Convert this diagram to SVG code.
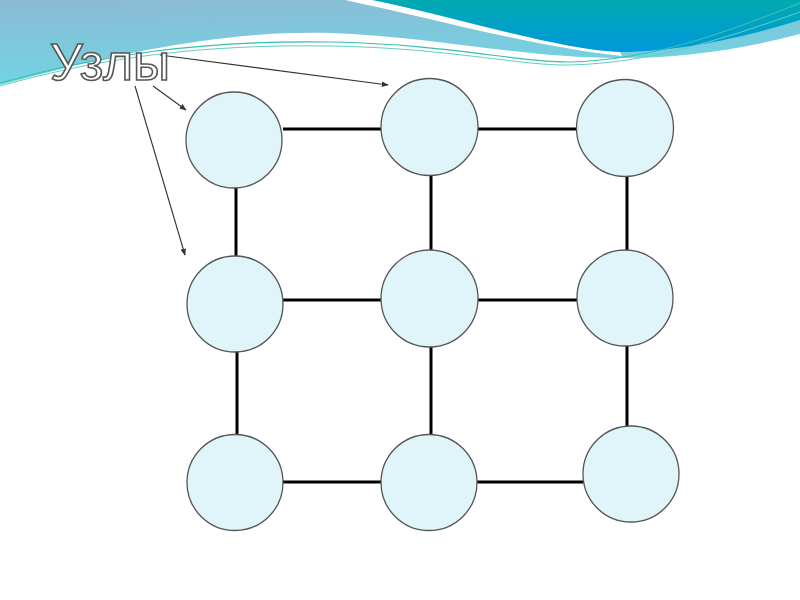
<svg xmlns="http://www.w3.org/2000/svg" width="800" height="600" viewBox="0 0 800 600">
<defs>
<linearGradient id="lb" x1="0" y1="0" x2="0.3" y2="1">
<stop offset="0" stop-color="#8cbad4"/>
<stop offset="1" stop-color="#6fd6e4"/>
</linearGradient>
<linearGradient id="bl" x1="0" y1="0" x2="0" y2="1">
<stop offset="0" stop-color="#00aab0"/>
<stop offset="1" stop-color="#0098dc"/>
</linearGradient>
<marker id="ah" viewBox="0 0 10 10" refX="9" refY="5" markerWidth="7" markerHeight="7" orient="auto" markerUnits="userSpaceOnUse">
<path d="M0,1 L10,5 L0,9 Z" fill="#333"/>
</marker>
<style>
.node{fill:#dff5f9;stroke:#555;stroke-width:1.3}
.edge{stroke:#000;stroke-width:3;fill:none}
.ptr{stroke:#333;stroke-width:1.1;fill:none;marker-end:url(#ah)}
.title{font-family:"Liberation Sans",Arial,sans-serif;font-size:52px;fill:#fff;stroke:#555;stroke-width:1.6}
</style>
</defs>
<rect width="800" height="600" fill="#fff"/>
<g id="background">
<path d="M0,0 H800 V34 C740,50 680,58 620,58 C520,58 430,36 330,33 C230,30 120,52 0,85 Z" fill="url(#lb)"/>
<path d="M345,0 C430,18 540,48 622,56 L620,52 C540,44 450,18 380,0 Z" fill="#fff"/>
<path d="M372,0 H800 V20 C750,36 680,52 620,52 C560,50 470,20 372,0 Z" fill="url(#bl)"/>
<path d="M0,83 C100,55 200,40 330,42 C450,44 520,63 570,62 C650,60 720,35 800,3" fill="none" stroke="#3cbcae" stroke-width="1.2"/>
<path d="M0,86 C100,58 200,44 330,46 C450,48 520,66 570,65 C650,63 720,40 800,12" fill="none" stroke="#5fd0c0" stroke-width="1"/>
</g>
<g id="connectors">
<line class="edge" x1="283" y1="129" x2="381" y2="129"/>
<line class="edge" x1="478" y1="129" x2="577" y2="129"/>
<line class="edge" x1="283" y1="300" x2="381" y2="300"/>
<line class="edge" x1="478" y1="300" x2="577" y2="300"/>
<line class="edge" x1="283" y1="482" x2="381" y2="482"/>
<line class="edge" x1="477" y1="482" x2="583" y2="482"/>
<line class="edge" x1="236" y1="188" x2="236" y2="256"/>
<line class="edge" x1="431" y1="176" x2="431" y2="250"/>
<line class="edge" x1="627" y1="177" x2="627" y2="250"/>
<line class="edge" x1="237" y1="352" x2="237" y2="435"/>
<line class="edge" x1="431" y1="347" x2="431" y2="435"/>
<line class="edge" x1="627" y1="346" x2="627" y2="426"/>
<line class="ptr" x1="160" y1="55" x2="388" y2="85"/>
<line class="ptr" x1="153" y1="86" x2="186" y2="110"/>
<line class="ptr" x1="135" y1="86" x2="185" y2="255"/>
</g>
<g id="n1"><circle class="node" cx="234" cy="140" r="48"/></g>
<g id="n2"><circle class="node" cx="429.5" cy="127" r="48.5"/></g>
<g id="n3"><circle class="node" cx="625" cy="128" r="48.5"/></g>
<g id="n4"><circle class="node" cx="235" cy="304" r="48"/></g>
<g id="n5"><circle class="node" cx="429.5" cy="298.5" r="48.5"/></g>
<g id="n6"><circle class="node" cx="625" cy="298" r="48"/></g>
<g id="n7"><circle class="node" cx="235" cy="482.5" r="48"/></g>
<g id="n8"><circle class="node" cx="429" cy="482.5" r="48"/></g>
<g id="n9"><circle class="node" cx="631" cy="474" r="48"/></g>
<g id="label"><text class="title" x="50" y="80" textLength="120" lengthAdjust="spacingAndGlyphs">Узлы</text></g>
</svg>
